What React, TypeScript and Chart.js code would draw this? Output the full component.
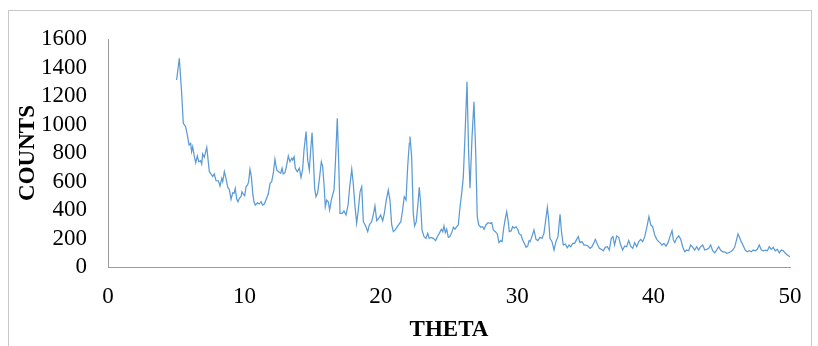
import React, { useEffect, useRef } from "react";
import { Chart, registerables } from "chart.js";

Chart.register(...registerables);

const thetaValues: number[] = [
  5.03, 5.23, 5.4, 5.52, 5.69, 5.82, 5.94, 6.06, 6.13, 6.21, 6.33, 6.43, 6.55, 6.65, 6.79, 6.87, 6.94, 7.06, 7.24,
  7.43, 7.55, 7.68, 7.79, 7.92, 8.09, 8.21, 8.34, 8.41, 8.53, 8.65, 8.78, 8.89, 9.02, 9.14, 9.24, 9.33, 9.44,
  9.53, 9.63, 9.75, 9.82, 9.92, 10.02, 10.12, 10.24, 10.31, 10.41, 10.51, 10.61, 10.7, 10.8, 10.95, 11.09,
  11.22, 11.34, 11.46, 11.63, 11.75, 11.88, 12.0, 12.12, 12.24, 12.37, 12.51, 12.66, 12.76, 12.85, 12.98,
  13.1, 13.22, 13.34, 13.47, 13.54, 13.64, 13.73, 13.88, 14.03, 14.15, 14.27, 14.37, 14.52, 14.64, 14.76,
  14.86, 14.96, 15.05, 15.15, 15.25, 15.37, 15.49, 15.64, 15.74, 15.84, 15.93, 16.03, 16.15, 16.25, 16.37,
  16.47, 16.57, 16.67, 16.81, 16.91, 17.01, 17.16, 17.3, 17.45, 17.6, 17.72, 17.87, 17.98, 18.11, 18.23,
  18.35, 18.48, 18.6, 18.72, 18.89, 19.04, 19.16, 19.33, 19.45, 19.57, 19.7, 19.85, 19.99, 20.14, 20.26,
  20.4, 20.55, 20.67, 20.8, 20.92, 21.06, 21.21, 21.35, 21.47, 21.6, 21.72, 21.85, 21.97, 22.09, 22.14,
  22.26, 22.38, 22.48, 22.6, 22.73, 22.82, 22.92, 23.02, 23.17, 23.31, 23.44, 23.55, 23.7, 23.85, 24.02,
  24.17, 24.29, 24.44, 24.54, 24.63, 24.73, 24.83, 24.95, 25.07, 25.22, 25.32, 25.44, 25.56, 25.68, 25.81,
  25.93, 26.05, 26.17, 26.32, 26.44, 26.54, 26.69, 26.83, 26.96, 27.07, 27.18, 27.32, 27.47, 27.57, 27.71,
  27.86, 28.01, 28.13, 28.25, 28.4, 28.54, 28.66, 28.79, 28.89, 29.01, 29.11, 29.23, 29.33, 29.42, 29.55,
  29.67, 29.79, 29.91, 30.04, 30.15, 30.28, 30.4, 30.52, 30.65, 30.77, 30.87, 30.94, 31.06, 31.23, 31.38,
  31.52, 31.67, 31.82, 31.96, 32.06, 32.21, 32.31, 32.4, 32.55, 32.7, 32.84, 32.99, 33.14, 33.26, 33.38,
  33.53, 33.67, 33.8, 33.92, 34.07, 34.21, 34.36, 34.48, 34.6, 34.75, 34.9, 35.04, 35.19, 35.34, 35.48,
  35.63, 35.73, 35.87, 36.02, 36.17, 36.31, 36.46, 36.61, 36.75, 36.9, 37.02, 37.14, 37.29, 37.44, 37.59,
  37.73, 37.88, 38.02, 38.17, 38.32, 38.47, 38.61, 38.76, 38.91, 39.06, 39.2, 39.35, 39.49, 39.66, 39.79,
  39.93, 40.08, 40.23, 40.37, 40.47, 40.62, 40.76, 40.91, 41.06, 41.2, 41.35, 41.45, 41.55, 41.69, 41.84,
  41.99, 42.13, 42.28, 42.43, 42.57, 42.72, 42.87, 43.01, 43.16, 43.3, 43.45, 43.6, 43.75, 43.89, 44.04,
  44.18, 44.33, 44.48, 44.62, 44.77, 44.91, 45.06, 45.21, 45.36, 45.5, 45.65, 45.8, 45.94, 46.09, 46.19,
  46.28, 46.43, 46.58, 46.72, 46.87, 47.02, 47.16, 47.31, 47.46, 47.6, 47.75, 47.9, 48.04, 48.19, 48.34,
  48.48, 48.63, 48.77, 48.92, 49.07, 49.22, 49.36, 49.51, 49.66, 49.8, 50.0,
];

const countValues: number[] = [
  1312, 1465, 1219, 1008, 985, 926, 856, 868, 809, 844, 774, 732, 779, 739, 746, 723, 793, 770, 840,
  669, 653, 634, 653, 606, 604, 568, 622, 599, 669, 622, 559, 545, 475, 521, 517, 552, 475,
  458, 482, 493, 528, 512, 500, 563, 578, 599, 686, 634, 517, 458, 435, 451, 442,
  458, 435, 442, 482, 512, 587, 599, 658, 756, 681, 669, 658, 693, 653, 662,
  716, 779, 739, 763, 751, 774, 693, 669, 693, 629, 686, 821, 950, 751, 681,
  821, 943, 774, 552, 493, 521, 611, 739, 704, 575, 423, 470, 458, 400, 470,
  505, 540, 728, 1044, 751, 377, 377, 393, 365, 435, 563, 686, 587, 423, 307,
  400, 528, 563, 318, 288, 248, 295, 318, 365, 428, 325, 342, 365, 325, 377,
  470, 540, 470, 295, 248, 260, 283, 302, 318, 400, 493, 470, 704, 868, 915,
  774, 377, 288, 318, 447, 559, 447, 260, 213, 201, 236, 201, 208, 201, 185,
  218, 236, 265, 248, 288, 241, 265, 208, 213, 248, 279, 265, 283, 295, 423,
  517, 634, 915, 1300, 798, 552, 915, 1160, 798, 353, 295, 279, 283, 265, 295,
  311, 307, 311, 260, 248, 232, 171, 185, 178, 272, 330, 388, 330, 248, 253,
  283, 272, 283, 265, 232, 225, 190, 166, 138, 147, 185, 178, 208, 260, 194,
  185, 208, 201, 236, 307, 419, 330, 201, 178, 119, 178, 213, 370, 236, 154,
  161, 135, 154, 142, 166, 166, 194, 213, 171, 178, 154, 154, 147, 131, 142,
  171, 194, 161, 131, 124, 114, 138, 142, 119, 201, 213, 154, 218, 208, 154,
  119, 147, 142, 185, 147, 131, 171, 142, 178, 194, 178, 213, 272, 353, 295,
  283, 225, 194, 178, 171, 154, 166, 147, 171, 213, 255, 190, 171, 201, 218,
  194, 142, 107, 119, 114, 154, 138, 119, 142, 119, 142, 154, 119, 124, 131,
  154, 114, 100, 119, 142, 119, 107, 107, 96, 100, 107, 119, 138, 194, 232,
  213, 178, 147, 119, 107, 114, 107, 119, 114, 124, 154, 119, 114, 119, 114,
  142, 124, 138, 114, 124, 100, 119, 114, 96, 84, 72,
];

const xTitle = "THETA";
const yTitle = "COUNTS";

export default function App() {
  const canvasRef = useRef<HTMLCanvasElement | null>(null);

  useEffect(() => {
    const canvas = canvasRef.current;
    if (!canvas) return;
    const points = thetaValues.map((t, i) => ({ x: t, y: countValues[i] }));
    const tickFont = { family: "'Liberation Serif', 'Times New Roman', serif", size: 23 };
    const titleFont = { family: "'Liberation Serif', 'Times New Roman', serif", size: 23, weight: "bold" as const };
    const chart = new Chart(canvas, {
      type: "line",
      data: {
        datasets: [
          {
            data: points,
            borderColor: "#5B9BD5",
            borderWidth: 1.25,
            pointRadius: 0,
            tension: 0,
            fill: false,
          },
        ],
      },
      options: {
        animation: false,
        responsive: false,
        maintainAspectRatio: false,
        parsing: false,
        layout: { padding: { top: 28, right: 21, bottom: 0, left: 0 } },
        plugins: {
          legend: { display: false },
          tooltip: { enabled: false },
        },
        scales: {
          x: {
            type: "linear",
            min: 0,
            max: 50,
            grid: { display: false, drawTicks: false },
            border: { display: true, color: "#9a9a9a", width: 1 },
            ticks: {
              stepSize: 10,
              color: "#000",
              font: tickFont,
              padding: 16,
              maxRotation: 0,
              autoSkip: false,
              callback: (v: any) => String(v),
            },
            title: { display: true, text: xTitle, color: "#000", font: titleFont, padding: { top: 0, bottom: 2 } },
            afterFit: (scale: any) => {
              scale.height = 79;
              scale.paddingLeft = 0;
              scale.paddingRight = 0;
            },
          },
          y: {
            type: "linear",
            min: 0,
            max: 1600,
            grid: { display: false, drawTicks: false },
            border: { display: true, color: "#9a9a9a", width: 1 },
            ticks: {
              stepSize: 200,
              color: "#000",
              font: tickFont,
              padding: 21,
              autoSkip: false,
              callback: (v: any) => String(v),
            },
            title: { display: true, text: yTitle, color: "#000", font: titleFont, padding: { top: 5, bottom: 0 } },
            afterFit: (scale: any) => {
              scale.width = 99;
              scale.paddingTop = 0;
              scale.paddingBottom = 0;
            },
          },
        },
      },
    });
    return () => chart.destroy();
  }, []);

  return (
    <div
      style={{
        position: "absolute",
        left: 8,
        top: 10,
        width: 802,
        height: 340,
        border: "1px solid #c8c8c8",
        background: "#fff",
      }}
    >
      <canvas ref={canvasRef} width={802} height={335} style={{ display: "block", width: 802, height: 335 }} />
    </div>
  );
}
